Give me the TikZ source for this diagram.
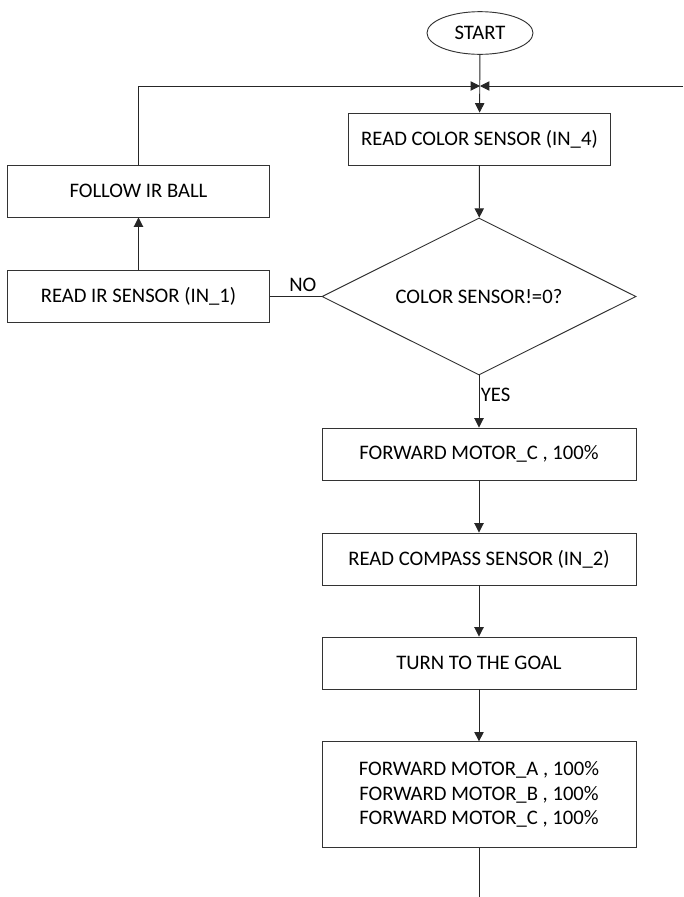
\documentclass[tikz,border=0pt]{standalone}
\usepackage{fontspec}
\setmainfont{Carlito}
\usetikzlibrary{shapes.geometric,arrows.meta}
\tikzset{
  box/.style={draw=black!80,line width=0.7pt,fill=white,inner sep=2pt,align=center,font=\fontsize{15.5}{18.4}\selectfont},
  flow/.style={draw=black!85,line width=0.7pt,-{Triangle[length=7pt,width=7pt]}},
  plain/.style={draw=black!85,line width=0.7pt},
  tag/.style={font=\fontsize{15.5}{18}\selectfont}
}
\begin{document}
\begin{tikzpicture}[x=0.75pt,y=-0.75pt]
\useasboundingbox (0,0) rectangle (683,897);
% nodes
\node[box,ellipse,minimum width=79.5pt,minimum height=32pt,inner sep=0pt] (start) at (480,33) {START};
\coordinate (join) at (480,86);
\coordinate (loopin) at (683,86);
\node[box,minimum width=197pt,minimum height=39pt] (readcolor) at (479.5,139) {READ COLOR SENSOR (IN\_4)};
\node[box,diamond,aspect=2,inner sep=0pt,minimum width=235.5pt,minimum height=117.75pt] (check) at (479,296.5) {COLOR SENSOR!=0?};
\node[box,minimum width=196pt,minimum height=39pt] (readir) at (138.5,296.5) {READ IR SENSOR (IN\_1)};
\node[box,minimum width=196pt,minimum height=39pt] (follow) at (138.5,191) {FOLLOW IR BALL};
\node[box,minimum width=235.5pt,minimum height=39pt] (fwdc) at (479,454) {FORWARD MOTOR\_C , 100\%};
\node[box,minimum width=235.5pt,minimum height=39pt] (compass) at (479,559) {READ COMPASS SENSOR (IN\_2)};
\node[box,minimum width=235.5pt,minimum height=39pt] (turn) at (479,663) {TURN TO THE GOAL};
\node[box,minimum width=235.5pt,minimum height=79pt] (fwdall) at (479,794.5) {FORWARD MOTOR\_A , 100\%\\FORWARD MOTOR\_B , 100\%\\FORWARD MOTOR\_C , 100\%};
\coordinate (out) at (479,897);
% connectors
\draw[flow] (start) -- (readcolor);
\draw[flow] (follow.north) |- (join);
\draw[flow] (loopin) -- (join);
\draw[flow] (readcolor) -- (check);
\draw[plain] (check.west) -- node[tag,above,pos=0.36,inner sep=3pt] {NO} (readir.east);
\draw[flow] (readir) -- (follow);
\draw[flow] (check.south) -- node[tag,right,pos=0.38,inner sep=1pt] {YES} (fwdc.north);
\draw[flow] (fwdc) -- (compass);
\draw[flow] (compass) -- (turn);
\draw[flow] (turn) -- (fwdall);
\draw[plain] (fwdall) -- (out);
\end{tikzpicture}
\end{document}
